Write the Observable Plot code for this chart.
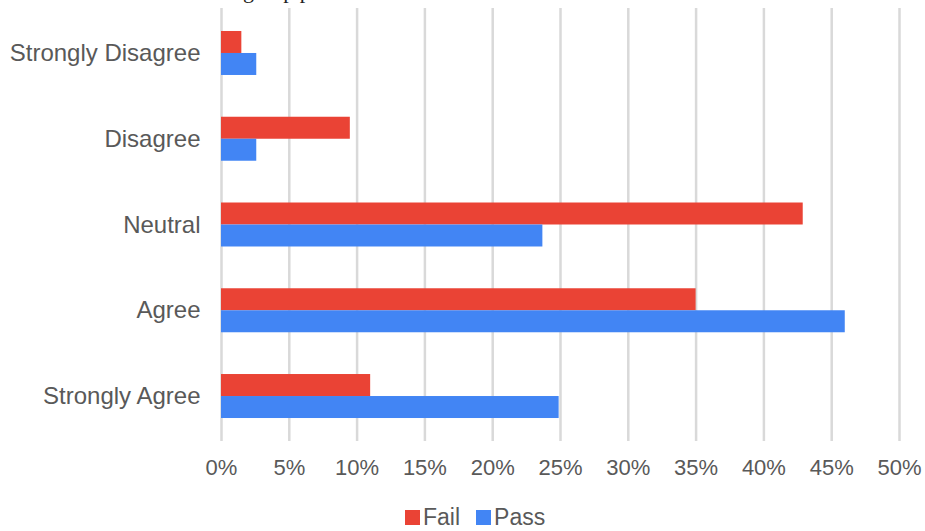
<!DOCTYPE html>
<html>
<head>
<meta charset="utf-8">
<script src="https://cdn.jsdelivr.net/npm/d3@7"></script>
<script src="https://cdn.jsdelivr.net/npm/@observablehq/plot@0.6"></script>
<style>
  html, body { margin: 0; padding: 0; background: #fff; }
  #wrap { position: relative; width: 925px; height: 531px; overflow: hidden; }
  #cut { position: absolute; left: 243px; top: -22px; font-family: "Liberation Serif", serif; font-size: 22px; color: #222; white-space: nowrap; }
  #chart { position: absolute; left: 0; top: 0; }
  #legend { position: absolute; left: 405px; top: 504px; display: flex; align-items: center; font-family: "Liberation Sans", Arial, sans-serif; font-size: 23px; color: #595959; white-space: nowrap; }
  #legend .sw { display: inline-block; width: 15px; height: 15px; margin-right: 3px; }
  #legend .item { display: flex; align-items: center; margin-right: 16px; }
</style>
</head>
<body>
<div id="wrap">
  <div id="cut">group p</div>
  <div id="chart"></div>
  <div id="legend"></div>
</div>
<script>
const categories = ["Strongly Disagree", "Disagree", "Neutral", "Agree", "Strongly Agree"];
const seriesNames = ["Fail", "Pass"];
const failValues = [0.015, 0.095, 0.429, 0.35, 0.11];
const passValues = [0.026, 0.026, 0.237, 0.46, 0.249];
const colors = ["#EA4335", "#4285F4"];
const xTicks = [0, 0.05, 0.10, 0.15, 0.20, 0.25, 0.30, 0.35, 0.40, 0.45, 0.50];

const failData = categories.map((c, i) => ({category: c, series: "Fail", value: failValues[i]}));
const passData = categories.map((c, i) => ({category: c, series: "Pass", value: passValues[i]}));

const fmt = d3.format(".0%");

const chart = Plot.plot({
  width: 925,
  height: 500,
  marginTop: 8,
  marginBottom: 59,
  marginLeft: 221,
  marginRight: 26,
  style: {fontFamily: "Liberation Sans, Arial, sans-serif", color: "#595959", background: "transparent"},
  x: {domain: [0, 0.5], axis: null, label: null},
  y: {domain: categories, paddingInner: 0.487, paddingOuter: 0.268, round: false, axis: null, label: null},
  marks: [
    Plot.gridX(xTicks, {stroke: "#d9d9d9", strokeOpacity: 1, strokeWidth: 2.5}),
    Plot.barX(failData, {y: "category", x: "value", fill: colors[0], insetBottom: 22}),
    Plot.barX(passData, {y: "category", x: "value", fill: colors[1], insetTop: 22}),
    Plot.axisX(xTicks, {tickSize: 0, tickPadding: 18, tickFormat: fmt, fontSize: 22, fill: "#595959", label: null}),
    Plot.axisY(categories, {tickSize: 0, tickPadding: 21, fontSize: 24, fill: "#595959", label: null})
  ]
});
document.getElementById("chart").appendChild(chart);

const legend = document.getElementById("legend");
seriesNames.forEach((s, i) => {
  const item = document.createElement("span");
  item.className = "item";
  const sw = document.createElement("span");
  sw.className = "sw";
  sw.style.background = colors[i];
  item.appendChild(sw);
  item.appendChild(document.createTextNode(s));
  legend.appendChild(item);
});
</script>
</body>
</html>
